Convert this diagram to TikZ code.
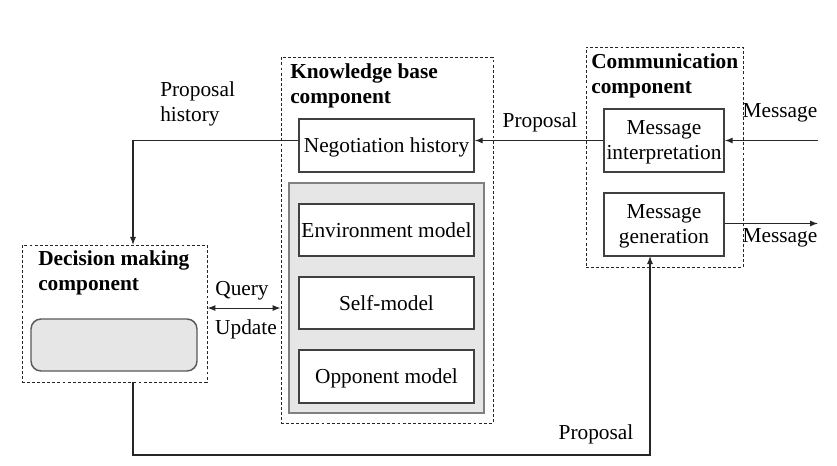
\documentclass[tikz,border=0pt]{standalone}
\usepackage{fontspec}
\setmainfont{Liberation Serif}
\usetikzlibrary{arrows.meta,calc}
\definecolor{boxline}{HTML}{404040}
\definecolor{grayfill}{HTML}{E6E6E6}
\definecolor{grayline}{HTML}{808080}
\tikzset{
  txt/.style={font=\fontsize{16}{18.75}\selectfont, inner sep=0pt, align=left},
  ttl/.style={font=\fontsize{16}{18.75}\selectfont\bfseries, inner sep=0pt, align=left},
  dbox/.style={draw=black!85, line width=0.7pt, dash pattern=on 2.2pt off 1.6pt, inner sep=0pt},
  wbox/.style={draw=boxline, line width=1.1pt, fill=white, inner sep=0pt, align=center,
    text depth=0pt, font=\fontsize{16}{18.75}\selectfont},
  gbox/.style={draw=grayline, line width=1.1pt, fill=grayfill, inner sep=0pt},
  arr/.style={draw=black!85, line width=0.8pt, -{Latex[length=6pt,width=4.5pt]}},
  dblarr/.style={draw=black!85, line width=0.8pt, {Latex[length=6pt,width=4.5pt]}-{Latex[length=6pt,width=4.5pt]}},
}
\begin{document}
\begin{tikzpicture}[x=0.75pt,y=-0.75pt]
\useasboundingbox (0,0) rectangle (837,466);
% dashed containers
\node[dbox, minimum width=159pt, minimum height=274.5pt] (kb) at (387,240) {};
\node[dbox, minimum width=117.75pt, minimum height=165pt] (comm) at (664.5,157) {};
\node[dbox, minimum width=138.75pt, minimum height=102.75pt] (dec) at (114.5,313.5) {};
% titles
\node[ttl, anchor=west] (kbt) at (290,85.5) {Knowledge base\\component};
\node[ttl, anchor=west] (commt) at (591,76) {Communication\\component};
\node[ttl, anchor=west] (dect) at (38,272.5) {Decision making\\component};
% decision inner rounded box
\node[gbox, draw=black!65, rounded corners=7.5pt, minimum width=124.5pt, minimum height=39pt] (dm) at (114,345) {};
% knowledge base contents
\node[wbox, minimum width=131.25pt, minimum height=39.75pt] (neg) at (386.5,145.5) {Negotiation history};
\node[gbox, minimum width=146.25pt, minimum height=172.5pt] (models) at (386.5,298) {};
\node[wbox, minimum width=131.25pt, minimum height=39pt] (env) at (386.5,230) {Environment model};
\node[wbox, minimum width=131.25pt, minimum height=39pt] (self) at (386.5,303) {Self-model};
\node[wbox, minimum width=131.25pt, minimum height=39.75pt] (opp) at (386.5,376.5) {Opponent model};
% communication contents
\node[wbox, minimum width=90pt, minimum height=47.25pt] (mi) at (664,140.5) {Message\\interpretation};
\node[wbox, minimum width=90pt, minimum height=47.25pt] (mg) at (664,224.5) {Message\\generation};
% free ends
\coordinate (inR) at (818,140.5);
\coordinate (outR) at (818,223.5);
\coordinate (dTop) at (133,245);
\coordinate (dBot) at (133,382);
\coordinate (gBot) at (650,256);
\coordinate (botR) at (650,455);
% connectors
\draw[arr] (mi.west) -- (mi.west -| neg.east);
\draw[arr] (inR) -- (mi.east |- inR);
\draw[arr] (mg.east |- outR) -- (outR);
\draw[arr] (neg.west |- mi.west) -| (dTop);
\draw[dblarr] ([yshift=4.1pt]dec.east) -- ([yshift=4.1pt]dec.east -| kb.west);
\draw[arr] (dBot) |- (botR) -- (gBot);
% labels
\node[txt, anchor=west] (ph) at (160,104) {Proposal\\history};
\node[txt] (prop1) at (540,122) {Proposal};
\node[txt] (msg1) at (780,113) {Message};
\node[txt] (msg2) at (780,238) {Message};
\node[txt] (qry) at (242,290.5) {Query};
\node[txt] (upd) at (246,329) {Update};
\node[txt] (prop2) at (596,434) {Proposal};
\end{tikzpicture}
\end{document}
